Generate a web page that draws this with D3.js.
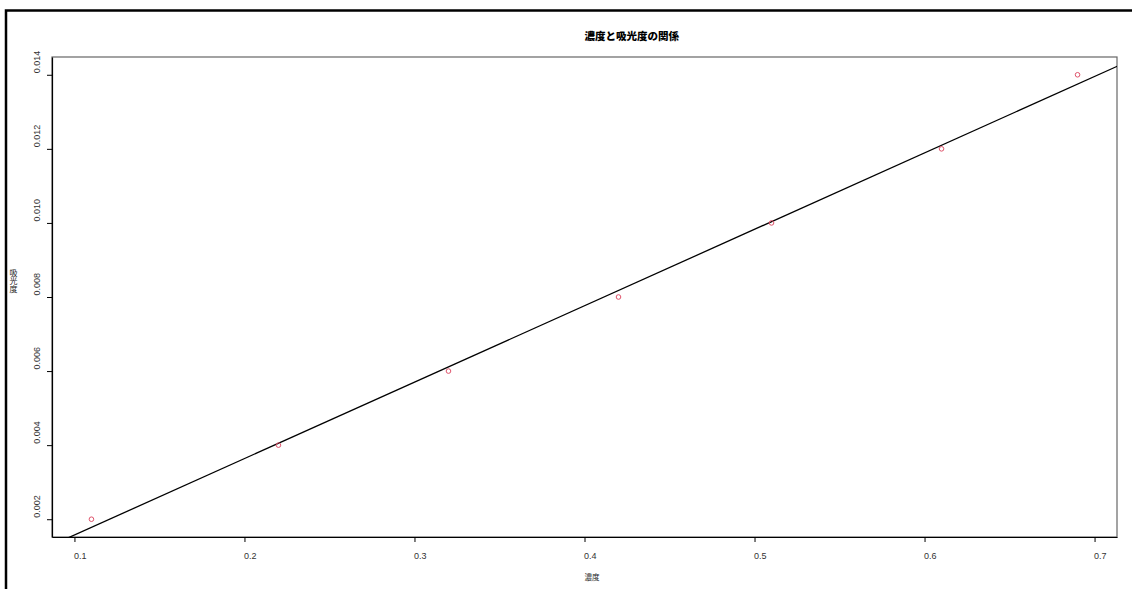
<!DOCTYPE html>
<html>
<head>
<meta charset="utf-8">
<script src="https://cdn.jsdelivr.net/npm/d3@7"></script>
<style>
  body { margin: 0; background: #fff; }
  svg text { font-family: "Liberation Sans", Arial, sans-serif; }
  .jp { font-family: "Noto Sans CJK JP", sans-serif; }
</style>
</head>
<body>
<div id="chart"></div>
<script>
// data
var concentration = [0.11, 0.22, 0.32, 0.42, 0.51, 0.61, 0.69];
var absorbance = [0.002, 0.004, 0.006, 0.008, 0.010, 0.012, 0.014];
var xTicks = [0.1, 0.2, 0.3, 0.4, 0.5, 0.6, 0.7];
var yTicks = [0.002, 0.004, 0.006, 0.008, 0.010, 0.012, 0.014];
var title = "濃度と吸光度の関係";
var xLabel = "濃度";
var yLabel = "吸光度";

var W = 1132, H = 589;
var m = {left: 52, right: 15, top: 57, bottom: 52};

var svg = d3.select("#chart").append("svg")
    .attr("width", W).attr("height", H);

// outer frame (cut off at right and bottom)
svg.append("path")
    .attr("d", "M6,600 L6,10.5 L1140,10.5")
    .attr("fill", "none").attr("stroke", "#000").attr("stroke-width", 2.5);

// R style range: data range padded by 4%
function pad(ext) {
    var d = (ext[1] - ext[0]) * 0.04;
    return [ext[0] - d, ext[1] + d];
}

var x = d3.scaleLinear().domain(pad(d3.extent(concentration)))
    .range([m.left, W - m.right]);
var y = d3.scaleLinear().domain(pad(d3.extent(absorbance)))
    .range([H - m.bottom, m.top]);

svg.append("clipPath").attr("id", "plotClip")
    .append("rect")
    .attr("x", m.left).attr("y", m.top)
    .attr("width", W - m.right - m.left).attr("height", H - m.bottom - m.top);

// box
svg.append("rect")
    .attr("x", m.left).attr("y", m.top)
    .attr("width", W - m.right - m.left).attr("height", H - m.bottom - m.top)
    .attr("fill", "none").attr("stroke", "#666").attr("stroke-width", 1.2);

// axes
var xAxis = svg.append("g")
    .attr("transform", "translate(0," + (H - m.bottom) + ")")
    .call(d3.axisBottom(x).tickValues(xTicks).tickFormat(d3.format(".1f"))
        .tickSizeInner(5).tickSizeOuter(0));
xAxis.select(".domain").attr("stroke", "#000").attr("stroke-width", 1.2);
xAxis.selectAll("text")
    .attr("text-anchor", "start").attr("dx", -1).attr("y", 16)
    .attr("font-size", 9).attr("fill", "#333");

var yAxis = svg.append("g")
    .attr("transform", "translate(" + m.left + ",0)")
    .call(d3.axisLeft(y).tickValues(yTicks).tickFormat(d3.format(".3f"))
        .tickSizeInner(5).tickSizeOuter(0));
yAxis.select(".domain").attr("stroke", "#000").attr("stroke-width", 1.2);
yAxis.selectAll(".tick text")
    .attr("x", null).attr("dy", null)
    .attr("text-anchor", "start")
    .attr("transform", "translate(-12,-2) rotate(-90)")
    .attr("font-size", 9).attr("fill", "#333");

// least squares fit line, like abline(lm(y ~ x))
var mx = d3.mean(concentration), my = d3.mean(absorbance);
var sxy = d3.sum(concentration, function(c, i) { return (c - mx) * (absorbance[i] - my); });
var sxx = d3.sum(concentration, function(c) { return (c - mx) * (c - mx); });
var slope = sxy / sxx, intercept = my - slope * mx;
var xd = x.domain();

svg.append("line")
    .attr("clip-path", "url(#plotClip)")
    .attr("x1", x(xd[0] - 0.1)).attr("y1", y(intercept + slope * (xd[0] - 0.1)))
    .attr("x2", x(xd[1] + 0.1)).attr("y2", y(intercept + slope * (xd[1] + 0.1)))
    .attr("stroke", "#000").attr("stroke-width", 1.3);

// points
svg.append("g").selectAll("circle")
    .data(concentration)
    .enter().append("circle")
    .attr("cx", function(d) { return x(d); })
    .attr("cy", function(d, i) { return y(absorbance[i]); })
    .attr("r", 2.3)
    .attr("fill", "none").attr("stroke", "#DF536B").attr("stroke-width", 1);

// titles (R drew these starting at the centre)
var cx = (m.left + W - m.right) / 2;
svg.append("text").attr("class", "jp")
    .attr("x", cx).attr("y", 40)
    .attr("font-size", 10.5).attr("font-weight", 900)
    .text(title);

svg.append("text").attr("class", "jp")
    .attr("x", cx).attr("y", 580)
    .attr("font-size", 7.5).attr("fill", "#222")
    .text(xLabel);

svg.append("text").attr("class", "jp")
    .attr("x", 13.5).attr("y", 269)
    .attr("font-size", 8).attr("fill", "#222")
    .style("writing-mode", "vertical-rl")
    .text(yLabel);
</script>
</body>
</html>
